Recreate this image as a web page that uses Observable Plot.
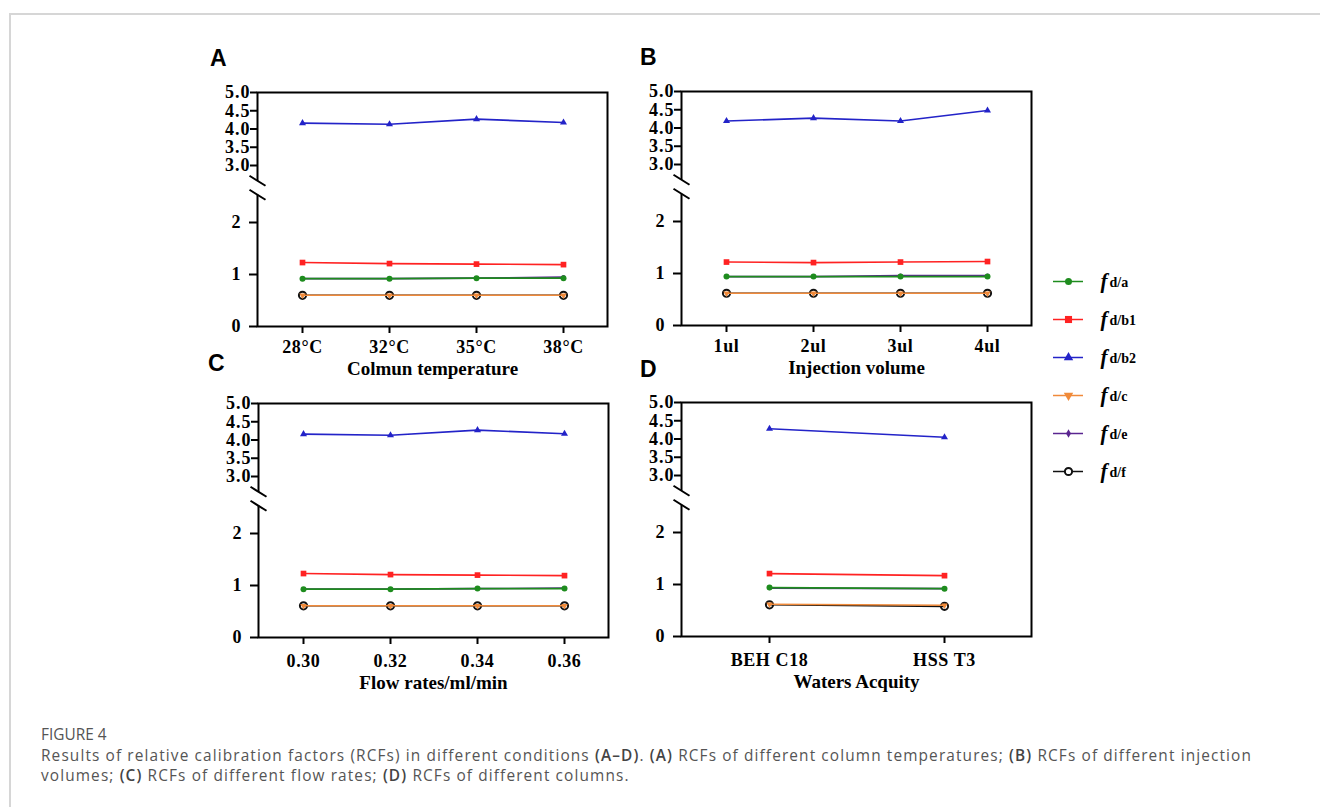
<!DOCTYPE html>
<html><head><meta charset="utf-8">
<script src="https://cdn.jsdelivr.net/npm/d3@7"></script>
<script src="https://cdn.jsdelivr.net/npm/@observablehq/plot@0.6"></script>
<style>
body{margin:0;background:#fff;}
#page{position:relative;width:1320px;height:807px;overflow:hidden;background:#fff;}
.abs{position:absolute;}
.letter{position:absolute;font-family:"Liberation Sans",Arial,sans-serif;font-weight:bold;font-size:23px;line-height:1;color:#000;}
#border{position:absolute;left:9px;top:13px;width:1400px;height:900px;border-top:2px solid #d6d6d6;border-left:2px solid #d6d6d6;}
#fig{position:absolute;left:41px;top:725px;font-family:"Open Sans",sans-serif;font-size:15.4px;line-height:20px;color:#555;}
.cap{position:absolute;left:41px;font-family:"Open Sans",sans-serif;font-size:15.4px;line-height:20px;letter-spacing:1.12px;color:#555;white-space:nowrap;}
.cap b{font-weight:600;color:#444;}
svg{overflow:visible;}
svg g[aria-label="y-axis tick label"]{letter-spacing:1px;}
svg g[aria-label="x-axis tick label"]{letter-spacing:0.6px;}
</style></head><body>
<div id="page">
  <div id="border"></div>
  <div class="letter" style="left:210px;top:47px;">A</div>
  <div class="letter" style="left:640px;top:46px;">B</div>
  <div class="letter" style="left:208px;top:352px;">C</div>
  <div class="letter" style="left:640px;top:358px;">D</div>
  <div id="pA" class="abs" style="left:177px;top:70px;"></div>
  <div id="pB" class="abs" style="left:601px;top:69px;"></div>
  <div id="pC" class="abs" style="left:178px;top:381px;"></div>
  <div id="pD" class="abs" style="left:601px;top:380px;"></div>
  <div id="legend" class="abs" style="left:1048px;top:269px;"></div>
  <div id="fig">FIGURE 4</div>
  <div class="cap" style="top:746px;">Results of relative calibration factors (RCFs) in different conditions <b>(A–D)</b>. <b>(A)</b> RCFs of different column temperatures; <b>(B)</b> RCFs of different injection</div>
  <div class="cap" style="top:766px;">volumes; <b>(C)</b> RCFs of different flow rates; <b>(D)</b> RCFs of different columns.</div>
</div>
<script>
// ---------- data ----------
const seriesKeys = ["fd/a", "fd/b1", "fd/b2", "fd/c", "fd/e", "fd/f"];
const seriesColors = ["#1e8c1e", "#ff2222", "#2323c8", "#f08a3a", "#5a2590", "#111111"];

const tempLabels = ["28°C", "32°C", "35°C", "38°C"];
const temp_a  = [0.92, 0.92, 0.93, 0.93];
const temp_b1 = [1.23, 1.21, 1.20, 1.19];
const temp_b2 = [4.16, 4.13, 4.27, 4.18];
const temp_c  = [0.60, 0.60, 0.60, 0.60];
const temp_e  = [0.92, 0.92, 0.93, 0.95];
const temp_f  = [0.60, 0.60, 0.60, 0.60];

const volLabels = ["1ul", "2ul", "3ul", "4ul"];
const vol_a  = [0.94, 0.94, 0.94, 0.94];
const vol_b1 = [1.22, 1.21, 1.22, 1.23];
const vol_b2 = [4.19, 4.27, 4.19, 4.48];
const vol_c  = [0.62, 0.62, 0.62, 0.62];
const vol_e  = [0.94, 0.94, 0.96, 0.96];
const vol_f  = [0.62, 0.62, 0.62, 0.62];

const flowLabels = ["0.30", "0.32", "0.34", "0.36"];
const flow_a  = [0.93, 0.93, 0.94, 0.94];
const flow_b1 = [1.23, 1.21, 1.20, 1.19];
const flow_b2 = [4.16, 4.13, 4.27, 4.17];
const flow_c  = [0.61, 0.61, 0.61, 0.61];
const flow_e  = [0.93, 0.93, 0.94, 0.95];
const flow_f  = [0.61, 0.61, 0.61, 0.61];

const colLabels = ["BEH C18", "HSS T3"];
const col_a  = [0.94, 0.92];
const col_b1 = [1.21, 1.17];
const col_b2 = [4.28, 4.05];
const col_c  = [0.62, 0.60];
const col_e  = [0.93, 0.92];
const col_f  = [0.61, 0.58];

const yTicksLower = [0, 1, 2];
const yTicksUpper = [3.0, 3.5, 4.0, 4.5, 5.0];
const yBreak = [2.45, 2.7];   // broken axis gap

// ---------- styles ----------
const colorOf = Object.fromEntries(seriesKeys.map((k, i) => [k, seriesColors[i]]));
const markerStyle = {
  "fd/a":  {symbol: "circle", r: 3, fill: colorOf["fd/a"], stroke: "none", sw: 0, rotate: 0},
  "fd/b1": {symbol: "square", r: 3.2, fill: colorOf["fd/b1"], stroke: "none", sw: 0, rotate: 0},
  "fd/b2": {symbol: "triangle", r: 2.6, fill: colorOf["fd/b2"], stroke: "none", sw: 0, rotate: 0},
  "fd/c":  {symbol: "triangle", r: 2.4, fill: colorOf["fd/c"], stroke: "none", sw: 0, rotate: 180},
  "fd/e":  {symbol: "circle", r: 2, fill: colorOf["fd/e"], stroke: "none", sw: 0, rotate: 0},
  "fd/f":  {symbol: "circle", r: 3.6, fill: "none", stroke: colorOf["fd/f"], sw: 2, rotate: 0}
};
const drawOrder = ["fd/e", "fd/a", "fd/b1", "fd/b2", "fd/f", "fd/c"];

const gapSym = {draw(ctx) { ctx.rect(-4, -7, 8, 14); }};
const slashSym = {draw(ctx) { ctx.moveTo(-8, -12); ctx.lineTo(8, -2); ctx.moveTo(-8, 2); ctx.lineTo(8, 12); }};

const frameTop = 22, frameH = 234, upperPx = 36.5, lowerPx = 52;
const frameBottom = frameTop + frameH;

function panel(el, cats, vals, title, tickPad, titleDy) {
  const rows = [];
  seriesKeys.forEach((k, si) => vals[si].forEach((v, i) => rows.push({series: k, x: cats[i], y: v})));
  const marks = [Plot.frame({stroke: "#000", strokeWidth: 2})];
  for (const k of drawOrder) {
    const d = rows.filter(r => r.series === k);
    const s = markerStyle[k];
    marks.push(Plot.line(d, {x: "x", y: "y", stroke: colorOf[k], strokeWidth: 1.6}));
    marks.push(Plot.dot(d, {x: "x", y: "y", symbol: s.symbol, r: s.r, fill: s.fill, stroke: s.stroke, strokeWidth: s.sw, rotate: s.rotate}));
  }
  const mid = (yBreak[0] + yBreak[1]) / 2;
  marks.push(Plot.dot([mid], {y: d => d, frameAnchor: "left", symbol: gapSym, fill: "white", stroke: "none"}));
  marks.push(Plot.dot([mid], {y: d => d, frameAnchor: "left", symbol: slashSym, fill: "none", stroke: "#000", strokeWidth: 2}));
  marks.push(Plot.axisY({ticks: yTicksLower, tickFormat: d => String(d), tickSize: 8, tickPadding: 8, fontSize: 18, strokeWidth: 2, label: null}));
  marks.push(Plot.axisY({ticks: yTicksUpper, tickFormat: d => d.toFixed(1), tickSize: 7, tickPadding: 0, fontSize: 18, strokeWidth: 2, label: null}));
  marks.push(Plot.axisX({tickSize: 7, tickPadding: tickPad, fontSize: 18, strokeWidth: 2, label: null}));
  marks.push(Plot.text([title], {text: d => d, frameAnchor: "bottom", dy: titleDy, fontSize: 19, fontWeight: "bold"}));
  const plot = Plot.plot({
    width: 450, height: 316,
    marginLeft: 80, marginRight: 20, marginTop: frameTop, marginBottom: 316 - frameBottom,
    style: {fontFamily: "'Liberation Serif', 'Times New Roman', serif", fontWeight: "bold", fontSize: "18px", background: "transparent", color: "#000"},
    x: {type: "point", domain: cats, padding: 0.5},
    y: {
      type: "linear",
      domain: [0, yBreak[0], yBreak[1], 5],
      range: [frameBottom, frameBottom - yBreak[0] * lowerPx, frameTop + (5 - yBreak[1]) * upperPx, frameTop]
    },
    marks
  });
  document.getElementById(el).appendChild(plot);
}

panel("pA", tempLabels, [temp_a, temp_b1, temp_b2, temp_c, temp_e, temp_f], "Colmun temperature", 7, 48);
panel("pB", volLabels, [vol_a, vol_b1, vol_b2, vol_c, vol_e, vol_f], "Injection volume", 7, 48);
panel("pC", flowLabels, [flow_a, flow_b1, flow_b2, flow_c, flow_e, flow_f], "Flow rates/ml/min", 10, 51);
panel("pD", colLabels, [col_a, col_b1, col_b2, col_c, col_e, col_f], "Waters Acquity", 10, 51);

// ---------- legend ----------
const legendStyle = {
  "fd/a":  {symbol: "circle", r: 3.5, fill: colorOf["fd/a"], stroke: "none", sw: 0, rotate: 0},
  "fd/b1": {symbol: "square", r: 4, fill: colorOf["fd/b1"], stroke: "none", sw: 0, rotate: 0},
  "fd/b2": {symbol: "triangle", r: 3.5, fill: colorOf["fd/b2"], stroke: "none", sw: 0, rotate: 0},
  "fd/c":  {symbol: "triangle", r: 3.5, fill: colorOf["fd/c"], stroke: "none", sw: 0, rotate: 180},
  "fd/e":  {symbol: "diamond", r: 2.6, fill: colorOf["fd/e"], stroke: "none", sw: 0, rotate: 0},
  "fd/f":  {symbol: "circle", r: 3.6, fill: "#fff", stroke: colorOf["fd/f"], sw: 2, rotate: 0}
};
const legMarks = [];
for (const k of seriesKeys) {
  const s = legendStyle[k];
  legMarks.push(Plot.ruleY([k], {y: d => d, stroke: colorOf[k], strokeWidth: 1.5}));
  legMarks.push(Plot.dot([k], {y: d => d, symbol: s.symbol, r: s.r, fill: s.fill, stroke: s.stroke, strokeWidth: s.sw, rotate: s.rotate}));
}
legMarks.push(Plot.text(seriesKeys, {y: d => d, text: d => d.slice(0, 1), frameAnchor: "right", dx: 17, textAnchor: "start", fontSize: 21, fontStyle: "italic", fontWeight: "bold"}));
legMarks.push(Plot.text(seriesKeys, {y: d => d, text: d => d.slice(1), frameAnchor: "right", dx: 26, dy: 1, textAnchor: "start", fontSize: 14, fontWeight: "bold"}));
const legend = Plot.plot({
  width: 110, height: 214, marginLeft: 5, marginRight: 75, marginTop: 10, marginBottom: 10,
  style: {fontFamily: "'Liberation Serif', serif", background: "transparent", color: "#000"},
  y: {type: "point", domain: seriesKeys, padding: 0, axis: null},
  marks: legMarks
});
document.getElementById("legend").appendChild(legend);
</script>
</body></html>
